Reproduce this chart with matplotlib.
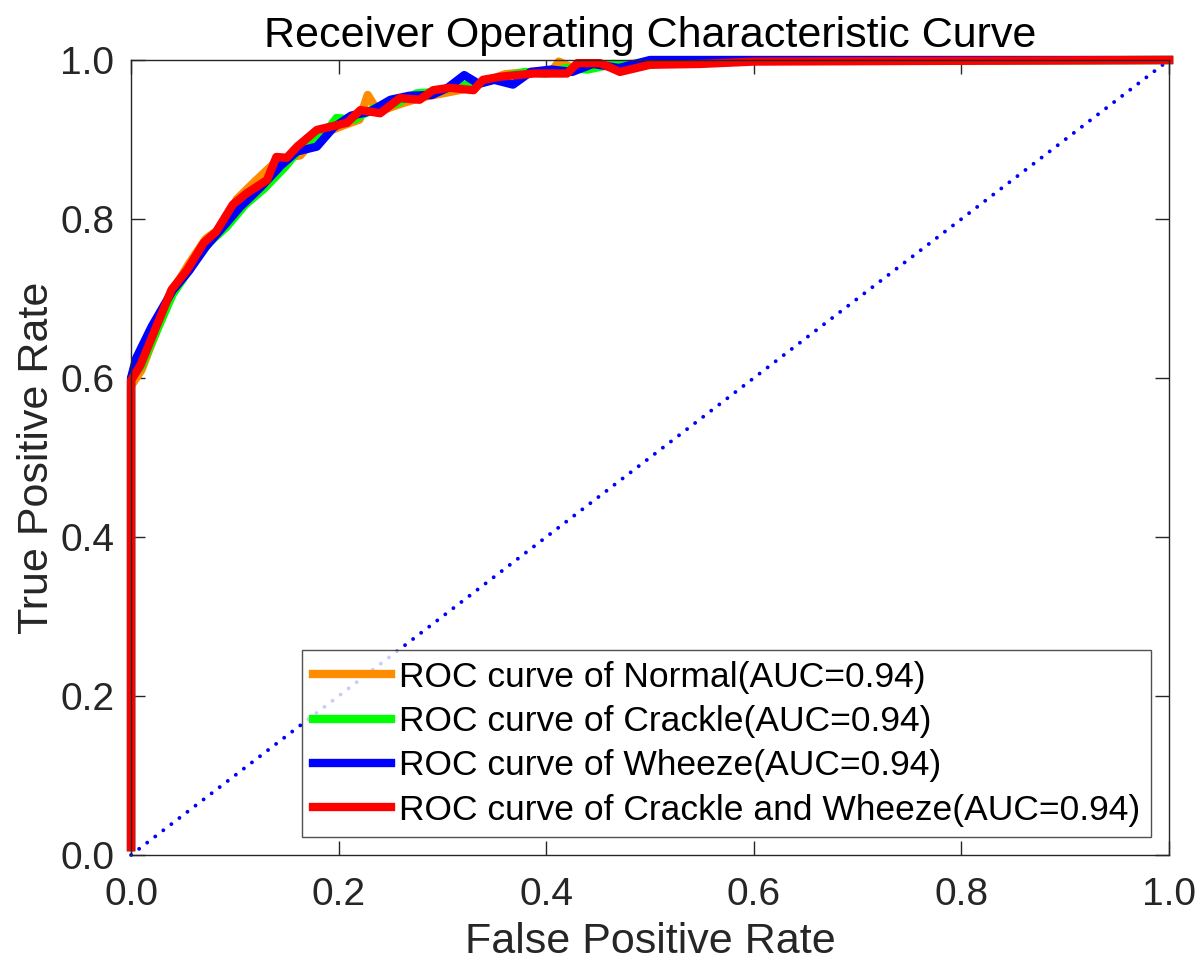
import numpy as np
import matplotlib.pyplot as plt

# ROC points (FPR, TPR)
normal_fpr = [0, 0, 0.010, 0.038, 0.055, 0.072, 0.088, 0.102, 0.120, 0.138, 0.152, 0.163,
              0.180, 0.205, 0.220, 0.228, 0.238, 0.260, 0.280, 0.300, 0.320, 0.340, 0.360,
              0.385, 0.405, 0.412, 0.425, 0.450, 0.480, 0.510, 0.580, 1.0]
normal_tpr = [0.01, 0.59, 0.61, 0.705, 0.742, 0.775, 0.790, 0.825, 0.848, 0.870, 0.878, 0.880,
              0.905, 0.918, 0.925, 0.956, 0.935, 0.945, 0.953, 0.958, 0.963, 0.972, 0.982,
              0.985, 0.985, 0.998, 0.990, 0.993, 0.995, 0.997, 0.999, 1.0]

crackle_fpr = [0, 0, 0.010, 0.040, 0.058, 0.075, 0.092, 0.110, 0.128, 0.148, 0.165, 0.185,
               0.198, 0.215, 0.235, 0.255, 0.275, 0.295, 0.315, 0.335, 0.355, 0.380, 0.400,
               0.420, 0.440, 0.465, 0.490, 0.530, 0.600, 1.0]
crackle_tpr = [0.01, 0.60, 0.615, 0.705, 0.740, 0.770, 0.790, 0.818, 0.838, 0.865, 0.892, 0.905,
               0.927, 0.925, 0.940, 0.945, 0.958, 0.960, 0.968, 0.970, 0.978, 0.985, 0.983,
               0.990, 0.988, 0.995, 0.993, 0.998, 0.999, 1.0]

wheeze_fpr = [0, 0, 0.005, 0.020, 0.040, 0.056, 0.072, 0.090, 0.105, 0.125, 0.145, 0.160,
              0.179, 0.195, 0.212, 0.230, 0.250, 0.268, 0.290, 0.305, 0.321, 0.335, 0.350,
              0.368, 0.385, 0.405, 0.425, 0.445, 0.470, 0.500, 0.560, 1.0]
wheeze_tpr = [0.01, 0.60, 0.625, 0.665, 0.710, 0.735, 0.765, 0.792, 0.815, 0.840, 0.868, 0.885,
              0.891, 0.915, 0.930, 0.935, 0.950, 0.955, 0.956, 0.965, 0.981, 0.970, 0.975,
              0.969, 0.985, 0.988, 0.985, 0.995, 0.990, 1.0, 1.0, 1.0]

both_fpr = [0, 0, 0.009, 0.039, 0.054, 0.070, 0.082, 0.098, 0.111, 0.131, 0.140, 0.150,
            0.160, 0.179, 0.208, 0.221, 0.240, 0.259, 0.278, 0.291, 0.307, 0.330, 0.339,
            0.356, 0.388, 0.420, 0.430, 0.452, 0.471, 0.500, 0.548, 0.600, 1.0]
both_tpr = [0.01, 0.597, 0.616, 0.711, 0.736, 0.770, 0.784, 0.818, 0.832, 0.849, 0.878, 0.877,
            0.891, 0.912, 0.921, 0.937, 0.933, 0.952, 0.950, 0.962, 0.965, 0.962, 0.975,
            0.979, 0.983, 0.983, 0.996, 0.996, 0.985, 0.994, 0.995, 0.998, 1.0]

labels = ['ROC curve of Normal(AUC=0.94)',
          'ROC curve of Crackle(AUC=0.94)',
          'ROC curve of Wheeze(AUC=0.94)',
          'ROC curve of Crackle and Wheeze(AUC=0.94)']
colors = ['#ff8c00', '#00ff00', '#0000ff', '#ff0000']

ticks = [0.0, 0.2, 0.4, 0.6, 0.8, 1.0]
tick_labels = ['0.0', '0.2', '0.4', '0.6', '0.8', '1.0']

plt.rcParams['font.family'] = ['Liberation Sans', 'DejaVu Sans']

fig = plt.figure(figsize=(11.99, 9.66), dpi=100)
fig.patch.set_facecolor('white')
ax = fig.add_axes([0.1093, 0.1149, 0.8657, 0.8230])

# chance line
ax.plot([0, 1], [0, 1], color='#0000ff', lw=2.8, linestyle=(0, (0.01, 2.6)),
        dash_capstyle='round', clip_on=False)

series = [(normal_fpr, normal_tpr), (crackle_fpr, crackle_tpr),
          (wheeze_fpr, wheeze_tpr), (both_fpr, both_tpr)]
for (fx, ty), c, lab in zip(series, colors, labels):
    ax.plot(fx, ty, color=c, lw=6, label=lab, solid_joinstyle='round',
            clip_on=False)

ax.set_xlim(0, 1)
ax.set_ylim(0, 1)
ax.set_xticks(ticks)
ax.set_xticklabels(tick_labels)
ax.set_yticks(ticks)
ax.set_yticklabels(tick_labels)
ax.tick_params(direction='in', length=10, width=1, colors='#262626',
               labelsize=28, top=True, right=True)
ax.tick_params(axis='x', pad=16)
ax.tick_params(axis='y', pad=12)
for s in ax.spines.values():
    s.set_color('#262626')
    s.set_linewidth(1)

ax.set_xlabel('False Positive Rate', fontsize=31, color='#262626', labelpad=6)
ax.set_ylabel('True Positive Rate', fontsize=31, color='#262626', labelpad=2)
ax.set_title('Receiver Operating Characteristic Curve', fontsize=31, color='black', pad=9)

leg = ax.legend(loc='lower right', fontsize=25.5, frameon=True, fancybox=False,
                edgecolor='#262626', handlelength=2.2, handletextpad=0.25,
                labelspacing=0.32, borderpad=0.3, borderaxespad=0.5)
leg.get_frame().set_linewidth(1)
for t in leg.get_texts():
    t.set_color('black')

fig.savefig('out.png', dpi=100, facecolor='white')
